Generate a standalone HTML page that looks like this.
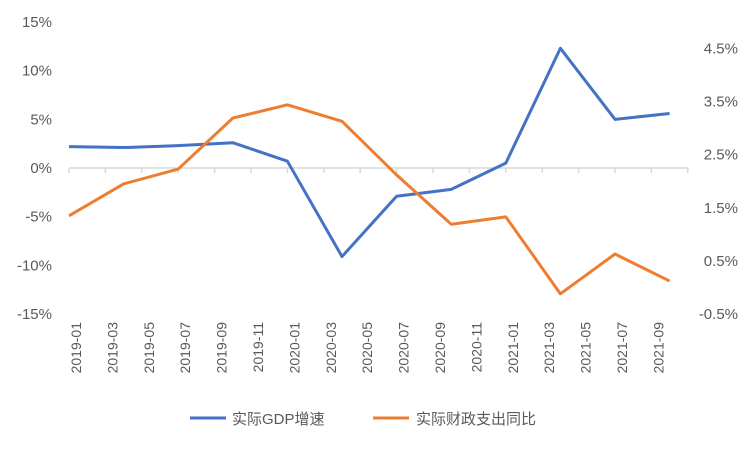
<!DOCTYPE html>
<html><head><meta charset="utf-8"><style>
body{margin:0;background:#fff;}
svg{font-family:"Liberation Sans","Noto Sans CJK SC",sans-serif;}
</style></head><body>
<svg id="chart" width="750" height="450" xmlns="http://www.w3.org/2000/svg"></svg>
<script>
const months = [0,3,6,9,12,15,18,21,24,27,30,33];
const gdpValues = [2.2,2.1,2.3,2.6,0.7,-9.1,-2.9,-2.2,0.5,12.3,5.0,5.6];
const fiscalValues = [1.35,1.95,2.23,3.19,3.44,3.13,2.12,1.19,1.33,-0.12,0.63,0.12];
const leftTicks = [15,10,5,0,-5,-10,-15];
const rightTicks = [4.5,3.5,2.5,1.5,0.5,-0.5];
const xLabels = ["2019-01","2019-03","2019-05","2019-07","2019-09","2019-11","2020-01","2020-03","2020-05","2020-07","2020-09","2020-11","2021-01","2021-03","2021-05","2021-07","2021-09"];

const svg=document.getElementById('chart');
const NS='http://www.w3.org/2000/svg';
const plotTop=22,plotBottom=314,x0=69,mw=18.2;
const yL=v=>plotBottom-(v+15)/30*(plotBottom-plotTop);
const yR=v=>plotBottom-(v+0.5)/5.5*(plotBottom-plotTop);
const xM=m=>x0+m*mw;
function el(t,a){const e=document.createElementNS(NS,t);for(const k in a)e.setAttribute(k,a[k]);svg.appendChild(e);return e;}

leftTicks.forEach(v=>{
  const t=el('text',{x:52,y:yL(v)+5,'text-anchor':'end','font-size':15,fill:'#595959'});
  t.textContent=v+'%';
  
  
});
rightTicks.forEach(v=>{
  const t=el('text',{x:738,y:yR(v)+5,'text-anchor':'end','font-size':15,fill:'#595959'});
  t.textContent=v.toFixed(1)+'%';
  
  
});
const ax=el('line',{x1:x0,x2:xM(34),y1:yL(0),y2:yL(0),stroke:'#d9d9d9','stroke-width':1.5});


for(let m=0;m<=34;m+=2){
  const tk=el('line',{x1:xM(m),x2:xM(m),y1:yL(0),y2:yL(0)+5,stroke:'#d9d9d9','stroke-width':1.5});
  
  
}
xLabels.forEach((s,i)=>{
  const x=xM(i*2)+12;
  const t=el('text',{x:x,y:322,'text-anchor':'end','font-size':14,fill:'#595959',transform:`rotate(-90 ${x} 322)`});
  t.textContent=s;
  
  
});
const gp=el('polyline',{points:months.map((m,i)=>xM(m)+','+yL(gdpValues[i])).join(' '),fill:'none',stroke:'#4472c4','stroke-width':3,'stroke-linejoin':'round'});


const fp=el('polyline',{points:months.map((m,i)=>xM(m)+','+yR(fiscalValues[i])).join(' '),fill:'none',stroke:'#ed7d31','stroke-width':3,'stroke-linejoin':'round'});



const l1=el('line',{x1:190,x2:226,y1:418,y2:418,stroke:'#4472c4','stroke-width':3});


const t1=el('text',{x:232,y:424,'font-size':15,fill:'#595959'});
t1.textContent='实际GDP增速';


const l2=el('line',{x1:373,x2:409,y1:418,y2:418,stroke:'#ed7d31','stroke-width':3});


const t2=el('text',{x:416,y:424,'font-size':15,fill:'#595959'});
t2.textContent='实际财政支出同比';


</script>
</body></html>
